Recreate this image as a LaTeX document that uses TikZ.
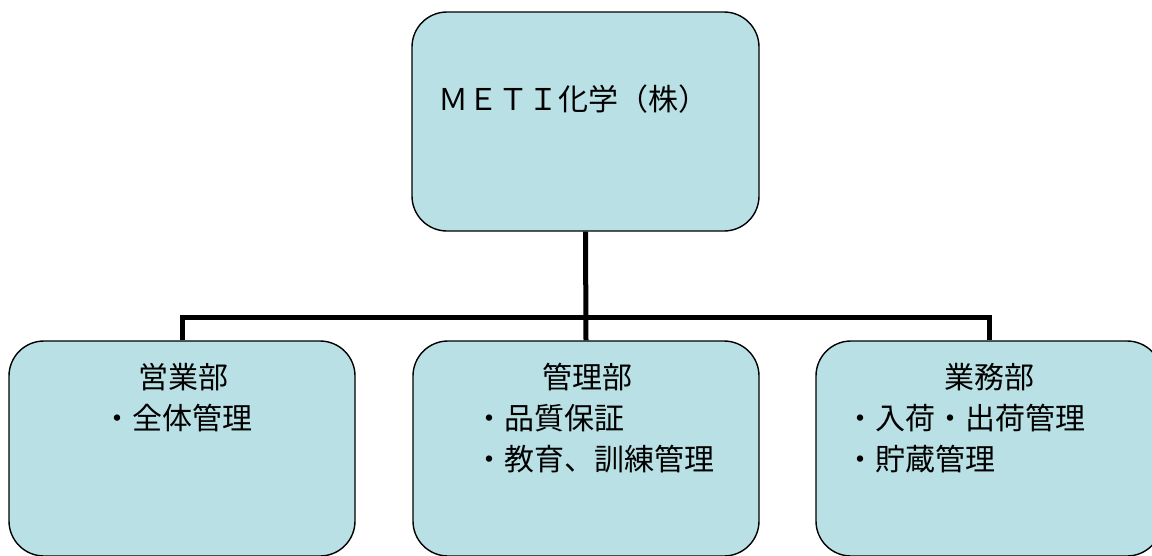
\documentclass[tikz,border=0pt]{standalone}
\usepackage{fontspec}
\setmainfont{Noto Sans CJK JP}
\usetikzlibrary{positioning}
\definecolor{unitblue}{RGB}{185,224,228}

\begin{document}
\begin{tikzpicture}[x=1pt, y=-1pt,
  unit/.style={draw, line width=1.4pt, fill=unitblue, rounded corners=35pt, minimum width=346pt, minimum height=215pt},
  unittext/.style={inner sep=0pt, font=\fontsize{30}{41.5}\selectfont},
  trunk/.style={line width=5pt}]
  \useasboundingbox (0,0) rectangle (1152,555); \clip (0,0) rectangle (1152,555);
  \node[unit, minimum width=347pt, minimum height=219pt] (head) at (585.5,121.5) {};
  \node[unit] (sales) at (182,448.5) {}; \node[unit] (admin) at (586,448.5) {}; \node[unit] (ops) at (989,448.5) {};
  \coordinate (bus) at (0,317);
  \draw[trunk] (admin.north) -- (head.south);
  \draw[trunk] (sales.north) |- (ops.north |- bus) -- (ops.north);
  % base of a two-line node sits on its last line
  \node[unittext, anchor=base west] (headname) at (438,110) {ＭＥＴＩ化学（株）};
  \node[unittext, anchor=base] (salesname) at (183,388) {営業部};
  \node[unittext, anchor=base west, align=left] (saleslist) at (102,429) {・全体管理};
  \node[unittext, anchor=base] (adminname) at (587,388) {管理部};
  \node[unittext, anchor=base west, align=left] (adminlist) at (474,470.5) {・品質保証\\・教育、訓練管理};
  \node[unittext, anchor=base] (opsname) at (989,388) {業務部};
  \node[unittext, anchor=base west, align=left] (opslist) at (845,470.5) {・入荷・出荷管理\\・貯蔵管理};
\end{tikzpicture}
\end{document}
